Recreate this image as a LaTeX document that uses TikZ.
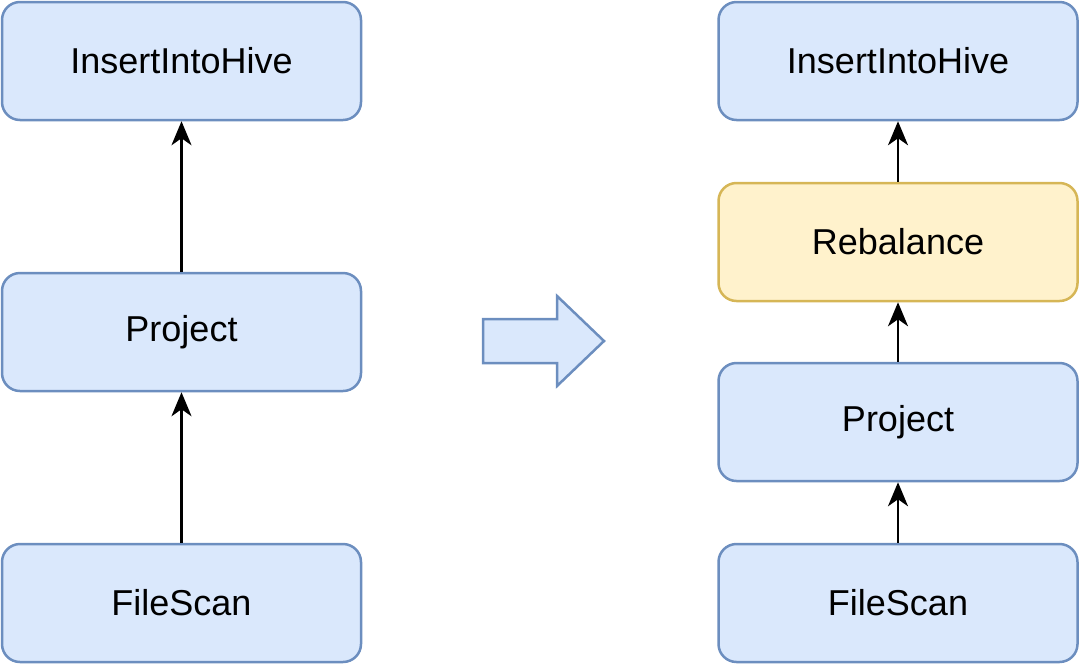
\documentclass[tikz,border=0pt]{standalone}
\usepackage{fontspec}
\setmainfont{Liberation Sans}
\usetikzlibrary{arrows.meta,positioning}

\definecolor{opfill}{HTML}{DAE8FC}
\definecolor{opline}{HTML}{6C8EBF}
\definecolor{newfill}{HTML}{FFF2CC}
\definecolor{newline}{HTML}{D6B656}

\begin{document}
\begin{tikzpicture}
  [
    x = 0.5pt, y = -0.5pt,
    op/.style = {draw=opline, fill=opfill, line width=1.25pt, rounded corners=9pt,
                 minimum width=179.5pt, minimum height=59pt, inner sep=0pt,
                 font=\fontsize{18}{22}\selectfont},
    new op/.style = {op, draw=newline, fill=newfill},
    flow/.style = {-{Stealth[length=12pt,width=10pt,inset=3.5pt]}, line width=1.2pt},
  ]

  \useasboundingbox (0,0) rectangle (1080,665);

  % before
  \node[op] (hive1) at (181.5,61)  {InsertIntoHive};
  \node[op] (proj1) at (181.5,332) {Project};
  \node[op] (scan1) at (181.5,603) {FileScan};

  \draw[flow] (scan1) -- (proj1);
  \draw[flow] (proj1) -- (hive1);

  % rewrite
  \draw[draw=opline, fill=opfill, line width=1.25pt, line join=miter]
    (483,319) -- (557,319) -- (557,296) -- (604,341) -- (557,386) -- (557,363) -- (483,363) -- cycle;

  % after
  \node[op]     (hive2) at (898,61)  {InsertIntoHive};
  \node[new op] (rebal) at (898,242) {Rebalance};
  \node[op]     (proj2) at (898,422) {Project};
  \node[op]     (scan2) at (898,603) {FileScan};

  \draw[flow] (scan2) -- (proj2);
  \draw[flow] (proj2) -- (rebal);
  \draw[flow] (rebal) -- (hive2);

\end{tikzpicture}
\end{document}
